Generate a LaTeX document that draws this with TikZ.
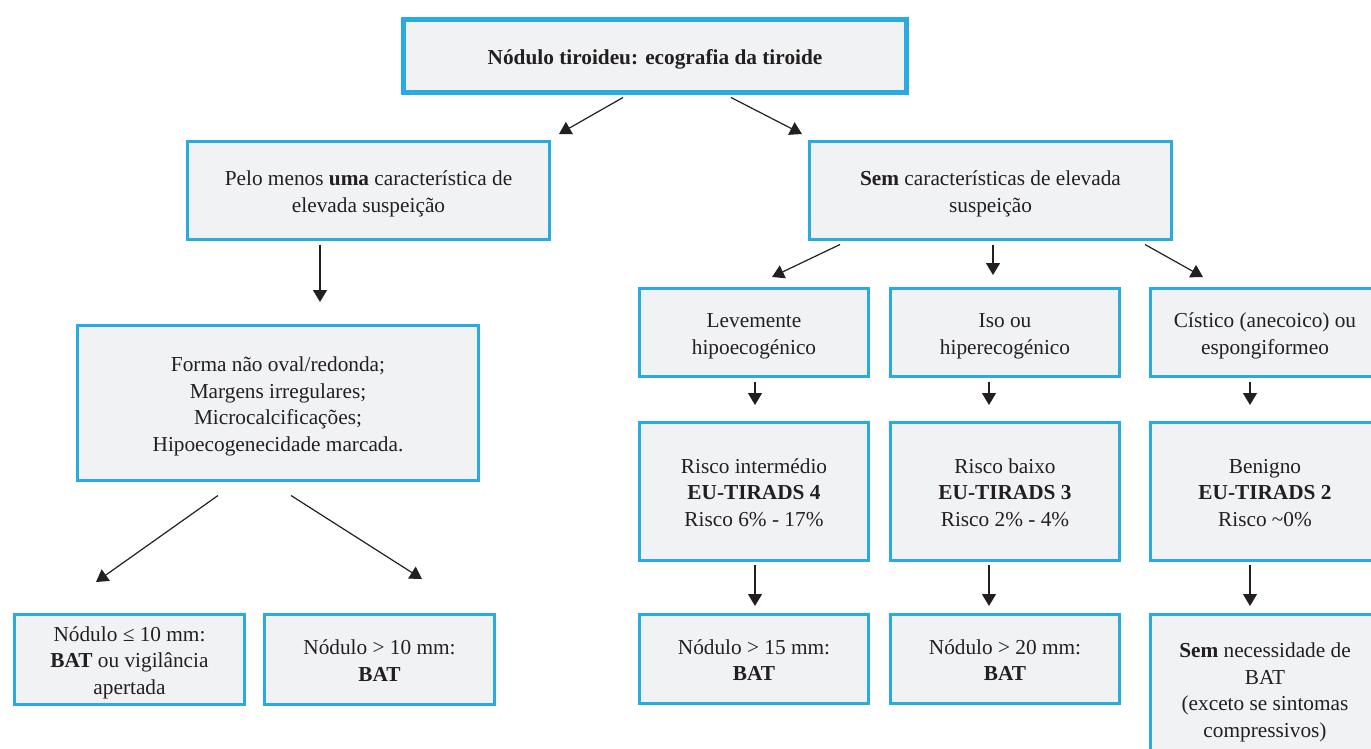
\documentclass[tikz,border=0pt]{standalone}
\usepackage{fontspec}
\setmainfont{Liberation Serif}
\usetikzlibrary{arrows.meta,calc}
\definecolor{boxline}{HTML}{29ABE2}
\definecolor{boxfill}{HTML}{F1F2F4}
\definecolor{ink}{HTML}{231F20}
% centred lines, set a little below the middle of the box
\newcommand\boxtext[1]{\raisebox{-3pt}[\height][\depth]{\begin{tabular}{@{}c@{}}#1\end{tabular}}}
\tikzset{
  box/.style={draw=boxline, fill=boxfill, line width=3pt,
    inner sep=0pt, text=ink, font=\fontsize{21.3}{26.5}\selectfont},
  titlebox/.style={box, line width=5pt},
  arr/.style={draw=ink, line width=1.2pt, -{Triangle[width=14pt,length=12pt]}}
}
\begin{document}
\begin{tikzpicture}[x=1pt,y=-1pt]
\useasboundingbox (0,0) rectangle (1371,749);
\clip (0,0) rectangle (1371,749);

% root
\node[titlebox, minimum width=503pt, minimum height=73pt] (top) at (655,56)
  {\boxtext{\textbf{Nódulo tiroideu: ecografia da tiroide}}};

% first split
\node[box, minimum width=362pt, minimum height=98pt] (high) at (368.5,190.5)
  {\boxtext{Pelo menos \textbf{uma} característica de\\elevada suspeição}};
\node[box, minimum width=362pt, minimum height=98pt] (nohigh) at (990.5,190.5)
  {\boxtext{\textbf{Sem} características de elevada\\suspeição}};

% high suspicion branch
\node[box, minimum width=401pt, minimum height=155pt] (feat) at (278,403)
  {\boxtext{Forma não oval/redonda;\\Margens irregulares;\\Microcalcificações;\\Hipoecogenecidade marcada.}};
\node[box, minimum width=230pt, minimum height=90pt] (small) at (129.5,659.5)
  {\boxtext{Nódulo ≤ 10 mm:\\\textbf{BAT} ou vigilância\\apertada}};
\node[box, minimum width=230pt, minimum height=90pt] (large) at (379.5,659.5)
  {\boxtext{Nódulo > 10 mm:\\\textbf{BAT}}};

% echogenicity row
\node[box, minimum width=229pt, minimum height=88pt] (hypo) at (754,332.5)
  {\boxtext{Levemente\\hipoecogénico}};
\node[box, minimum width=229pt, minimum height=88pt] (iso) at (1005,332.5)
  {\boxtext{Iso ou\\hiperecogénico}};
\node[box, minimum width=229pt, minimum height=88pt] (cyst) at (1265,332.5)
  {\boxtext{Cístico (anecoico) ou\\espongiformeo}};

% risk row
\node[box, minimum width=229pt, minimum height=138pt] (tr4) at (754,491.5)
  {\boxtext{Risco intermédio\\\textbf{EU-TIRADS 4}\\Risco 6\% - 17\%}};
\node[box, minimum width=229pt, minimum height=138pt] (tr3) at (1005,491.5)
  {\boxtext{Risco baixo\\\textbf{EU-TIRADS 3}\\Risco 2\% - 4\%}};
\node[box, minimum width=229pt, minimum height=138pt] (tr2) at (1265,491.5)
  {\boxtext{Benigno\\\textbf{EU-TIRADS 2}\\Risco \textasciitilde0\%}};

% action row
\node[box, minimum width=229pt, minimum height=89pt] (bat15) at (754,659)
  {\boxtext{Nódulo > 15 mm:\\\textbf{BAT}}};
\node[box, minimum width=229pt, minimum height=89pt] (bat20) at (1005,659)
  {\boxtext{Nódulo > 20 mm:\\\textbf{BAT}}};
\node[box, minimum width=229pt, minimum height=149pt] (nobat) at (1265,689)
  {\boxtext{\textbf{Sem} necessidade de\\BAT\\(exceto se sintomas\\compressivos)}};

% arrow tips
\coordinate (tHigh) at (559,134);
\coordinate (tNoHigh) at (802,134);
\coordinate (tFeat) at (320,302);
\coordinate (tSmall) at (96,582);
\coordinate (tLarge) at (422,579);
\coordinate (tHypo) at (772,277);
\coordinate (tIso) at (993,275);
\coordinate (tCyst) at (1203,277);
\coordinate (tTr4) at (755,405);
\coordinate (tTr3) at (989,405);
\coordinate (tTr2) at (1250,405);
\coordinate (tBat15) at (755,606);
\coordinate (tBat20) at (989,606);
\coordinate (tNoBat) at (1250,606);

% connectors
\draw[arr] ($(top.south)+(-32,2.5)$) -- (tHigh);
\draw[arr] ($(top.south)+(76,2.5)$) -- (tNoHigh);
\draw[arr] ($(high.south)+(-48.5,3.5)$) -- (tFeat);
\draw[arr] ($(feat.south)+(-60,13.5)$) -- (tSmall);
\draw[arr] ($(feat.south)+(13,13.5)$) -- (tLarge);
\draw[arr] ($(nohigh.south)+(-150.5,3.5)$) -- (tHypo);
\draw[arr] ($(nohigh.south)+(2.5,3.5)$) -- (tIso);
\draw[arr] ($(nohigh.south)+(154.5,3.5)$) -- (tCyst);
\draw[arr] ($(hypo.south)+(1,3.5)$) -- (tTr4);
\draw[arr] ($(iso.south)+(-16,3.5)$) -- (tTr3);
\draw[arr] ($(cyst.south)+(-15,3.5)$) -- (tTr2);
\draw[arr] ($(tr4.south)+(1,2.5)$) -- (tBat15);
\draw[arr] ($(tr3.south)+(-16,2.5)$) -- (tBat20);
\draw[arr] ($(tr2.south)+(-15,2.5)$) -- (tNoBat);
\end{tikzpicture}
\end{document}
